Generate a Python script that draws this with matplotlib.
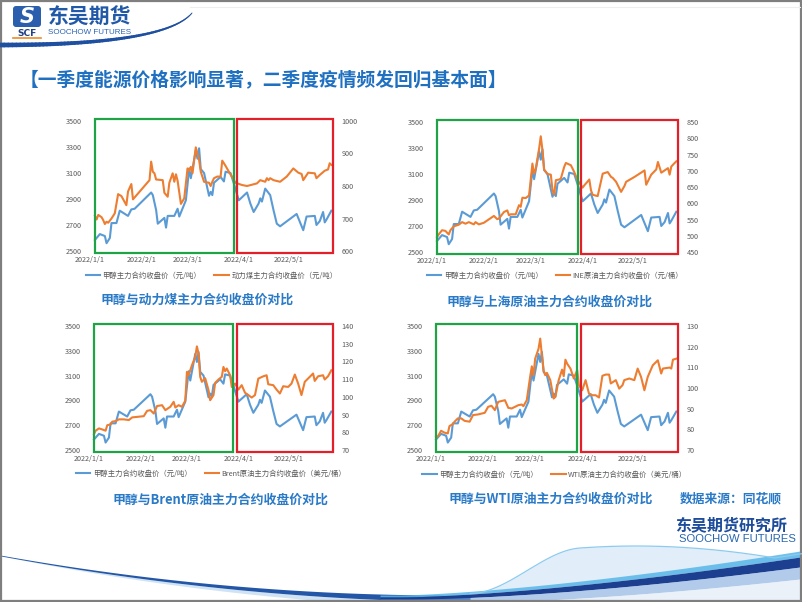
import numpy as np
import pandas as pd
import matplotlib
matplotlib.use('Agg')
import matplotlib.pyplot as plt
import matplotlib.dates as mdates
import matplotlib.transforms as mtransforms
from matplotlib.patches import Rectangle, FancyBboxPatch
from matplotlib.ticker import FuncFormatter

plt.rcParams['font.family'] = ['Noto Sans CJK SC', 'DejaVu Sans']

W, H = 802, 602

##############################################################################
## data (mm-dd, year 2022)
meth_dates = ["01-04","01-07","01-10","01-11","01-13","01-14","01-17","01-19","01-24","01-26",
              "01-28","02-07","02-08","02-10","02-11","02-15","02-16","02-17","02-21","02-23",
              "02-24","02-28","03-02","03-03","03-06","03-07","03-08","03-09","03-11","03-14",
              "03-15","03-16","03-17","03-21","03-23","03-24","03-27","03-29","04-01","04-06",
              "04-08","04-10","04-13","04-14","04-15","04-17","04-20","04-22","04-24","04-26",
              "05-06","05-10","05-12","05-17","05-18","05-20","05-22","05-23","05-24","05-27"]
meth_vals = [2585,2630,2615,2560,2600,2715,2715,2810,2770,2820,
             2825,2950,2930,2815,2710,2755,2680,2770,2770,2825,
             2765,2890,3135,3060,3275,3210,3290,3130,3100,2925,
             2955,2930,3025,3070,3035,3110,3100,3020,2890,2950,
             2865,2800,2865,2905,2880,2980,2930,2815,2710,2690,
             2785,2660,2765,2770,2700,2730,2800,2720,2740,2810]

coal_dates = ["01-04","01-05","01-06","01-08","01-09","01-10","01-11","01-12","01-14","01-16",
              "01-18","01-20","01-23","01-24","01-26","01-27","02-06","02-07","02-08","02-09",
              "02-10","02-14","02-15","02-17","02-18","02-20","02-21","02-22","02-23","02-25",
              "02-27","03-01","03-02","03-03","03-04","03-06","03-08","03-09","03-11","03-14",
              "03-15","03-16","03-17","03-19","03-21","03-22","03-24","03-26","03-30","04-03",
              "04-06","04-12","04-14","04-17","04-18","04-19","04-20","04-22","04-26","04-30",
              "05-04","05-07","05-09","05-10","05-13","05-17","05-18","05-20","05-23","05-25",
              "05-26","05-27"]
coal_vals = [708,697,711,704,695,683,690,687,700,716,
             775,769,741,783,806,759,818,875,844,839,
             820,818,779,767,810,839,813,836,816,745,
             762,854,847,859,839,919,880,844,813,810,
             800,813,824,829,829,878,862,844,810,803,
             800,808,818,813,824,818,824,818,813,829,
             854,841,837,818,841,839,824,834,847,851,
             870,865]

ine_dates = ["01-04","01-05","01-07","01-09","01-11","01-12","01-14","01-17","01-19","01-21",
             "01-23","01-26","01-27","01-29","02-01","02-07","02-09","02-10","02-13","02-15",
             "02-16","02-17","02-20","02-22","02-23","02-24","02-26","02-28","03-02","03-03",
             "03-04","03-06","03-07","03-08","03-09","03-11","03-13","03-14","03-15","03-16",
             "03-18","03-19","03-21","03-22","03-25","03-27","03-29","04-01","04-02","04-05",
             "04-06","04-07","04-10","04-13","04-16","04-18","04-19","04-21","04-24","04-26",
             "04-27","05-02","05-08","05-09","05-12","05-15","05-16","05-18","05-22","05-23",
             "05-24","05-26","05-27"]
ine_vals = [496,504,517,515,504,517,529,534,542,537,
            542,535,542,535,540,561,551,553,573,578,
            563,566,566,594,589,617,616,624,722,691,
            706,768,806,763,704,690,688,641,626,671,
            673,676,712,724,717,696,671,648,655,673,
            640,626,622,691,696,681,678,666,635,653,
            666,681,701,657,688,704,727,694,708,688,
            713,724,729]

brent_dates = ["01-04","01-05","01-07","01-09","01-11","01-12","01-14","01-15","01-17","01-19",
               "01-22","01-25","01-27","01-31","02-03","02-05","02-07","02-09","02-11","02-14",
               "02-16","02-19","02-21","02-22","02-24","02-26","02-28","03-01","03-02","03-04",
               "03-06","03-07","03-08","03-09","03-10","03-12","03-14","03-15","03-17","03-18",
               "03-20","03-22","03-23","03-24","03-25","03-27","03-28","03-30","04-01","04-03",
               "04-05","04-07","04-09","04-11","04-13","04-16","04-18","04-19","04-22","04-24",
               "04-26","04-28","05-01","05-03","05-05","05-07","05-09","05-11","05-14","05-16",
               "05-17","05-19","05-22","05-23","05-25","05-27"]
brent_vals = [79,80.9,82.2,81.6,80.9,84,84.4,86,86.3,87.3,
              87.3,86.9,88.4,88.8,89.1,92.1,92.5,90.6,94.8,95.3,
              92.5,94.4,97.2,94,95.3,94.4,97.8,114.1,112.2,117.8,
              122.5,128.5,124.4,111.3,108.5,110.5,103.8,98.1,101,107.9,
              109.8,111.3,116.9,114.5,116,112.2,105.6,107.5,104.1,106.6,
              102.3,101,99.6,101,110.3,111.6,112.2,107.1,106.6,104.1,
              101.9,106,105.6,107.5,112.6,107.5,101,108.5,111.3,113.2,
              109,111.6,112.2,109.8,111.6,115]

wti_dates = ["01-04","01-05","01-07","01-09","01-11","01-12","01-14","01-15","01-17","01-19",
             "01-21","01-24","01-26","01-29","02-02","02-04","02-06","02-08","02-10","02-14",
             "02-16","02-18","02-20","02-22","02-24","02-25","02-27","03-01","03-02","03-03",
             "03-04","03-06","03-07","03-08","03-09","03-10","03-11","03-13","03-15","03-16",
             "03-18","03-20","03-21","03-22","03-23","03-25","03-27","03-29","03-30","04-01",
             "04-03","04-05","04-07","04-09","04-11","04-13","04-15","04-17","04-18","04-21",
             "04-23","04-25","04-26","04-29","05-02","05-04","05-06","05-08","05-10","05-13",
             "05-16","05-18","05-19","05-23","05-24","05-25","05-27"]
wti_vals = [76.8,76.4,79.3,78.4,78,81.6,82.5,83.7,85.3,85.3,
            84.1,83.7,86.9,87.2,88,90.9,91.4,89.3,93.3,94.1,
            90.4,90.1,90.9,91.7,92,91.2,94.1,105.4,110.5,106.2,
            114.2,119,123.9,115.8,108.6,106.2,107.3,103.8,94.9,95.7,
            103.8,108.9,105.7,113.7,111.8,109.4,104.6,108.6,101.4,98.9,
            103.8,97.3,96.5,96.5,95.4,105.9,106.5,106.5,102.2,103.8,
            99.7,101.4,103.8,104.6,103.8,109.4,105.4,98.9,105.4,111,
            113.4,107,109.4,109.9,109.4,113.7,114.2]

meth_label = "甲醇主力合约收盘价（元/吨）"
labels2 = ["动力煤主力合约收盘价（元/吨）", "INE原油主力合约收盘价（元/桶）",
           "Brent原油主力合约收盘价（美元/桶）", "WTI原油主力合约收盘价（美元/桶）"]
captions = ["甲醇与动力煤主力合约收盘价对比", "甲醇与上海原油主力合约收盘价对比",
            "甲醇与Brent原油主力合约收盘价对比", "甲醇与WTI原油主力合约收盘价对比"]
tick_months = ["2022-01-01", "2022-02-01", "2022-03-01", "2022-04-01", "2022-05-01"]
left_ticks = [2500, 2700, 2900, 3100, 3300, 3500]
right_ticks = [[600, 700, 800, 900, 1000],
               [450, 500, 550, 600, 650, 700, 750, 800, 850],
               [70, 80, 90, 100, 110, 120, 130, 140],
               [70, 80, 90, 100, 110, 120, 130]]

title = "【一季度能源价格影响显著，二季度疫情频发回归基本面】"

BLUE = '#5B9BD5'
ORANGE = '#ED7D31'
GREEN = '#1FA347'
RED = '#E3202A'
TXT = '#595959'
CAP = '#2A7AC8'

def to_dt(lst):
    return pd.to_datetime(["2022-" + s for s in lst])

def px(l, t, r, b):
    return [l / W, 1 - b / H, (r - l) / W, (b - t) / H]

def datefmt(v, p):
    d = mdates.num2date(v)
    return "%d/%d/%d" % (d.year, d.month, d.day)

fig = plt.figure(figsize=(W / 100, H / 100), dpi=100)

##############################################################################
## slide background: border, logo, swooshes
bg = fig.add_axes([0, 0, 1, 1], zorder=0)
bg.set_xlim(0, W)
bg.set_ylim(H, 0)
bg.axis('off')
bg.plot([190, W - 2], [7, 7], color='#EEEEEE', lw=0.8)

# top logo
bg.add_patch(FancyBboxPatch((13, 6), 28, 21, boxstyle="round,pad=0,rounding_size=3",
                            fc='#2B5FAE', ec='none'))
bg.text(27, 17, "S", color='white', fontsize=15, fontweight='bold', style='italic',
        ha='center', va='center', family='DejaVu Sans')
bg.text(27, 33, "SCF", color='#1F3F86', fontsize=6.5, fontweight='bold',
        ha='center', va='center', family='DejaVu Sans')
bg.plot([13, 41], [37.5, 37.5], color='#F08A24', lw=1.2)
bg.text(48, 17.5, "东吴期货", color='#2059A8', fontsize=15, fontweight='bold',
        ha='left', va='center')
bg.text(48, 33, "SOOCHOW FUTURES", color='#2C64B4', fontsize=5.8,
        ha='left', va='center', family='Liberation Sans')
t = np.linspace(0, 1, 80)
ax_ = 2 * (1 - t) * t * 165 + t ** 2 * 192
ay_ = (1 - t) ** 2 * 45 + 2 * (1 - t) * t * 45 + t ** 2 * 13
for i in range(len(t) - 1):
    bg.plot(ax_[i:i + 2], ay_[i:i + 2], color='#1E4FA0', lw=2.8 * (1 - t[i]) + 0.6,
            solid_capstyle='round')

# bottom swooshes
x = np.linspace(0, 470, 200)
f = np.clip(x / 450, 0, 1)
yl = 555 + 40 * (1 - (1 - f) ** 2)
thick = 0.8 + 6 * (x / 470) ** 1.2
bg.fill_between(x, yl + thick, yl + thick + 6 * f, color='#CFE3F5', lw=0)
bg.fill_between(x, yl, yl + thick, color='#2356A6', lw=0)
xr = np.linspace(380, W, 300)
s = np.clip((xr - 400) / 400, 0, None)
yr = 597 - 40 * s ** 1.5
hump = np.sin(np.clip((xr - 470) / (W - 470), 0, 1) * np.pi) ** 0.8
target = 564 - 18 * hump
w = np.clip((xr - 470) / 110, 0, 1)
w = w * w * (3 - 2 * w)
arc = np.minimum(yr - 3 * s, yr - (yr - target) * w)
bg.fill_between(xr, arc, yr, color='#E1EEF9', lw=0)
bg.plot(xr[xr > 470], arc[xr > 470], color='#8CCBEF', lw=0.9)
bg.fill_between(xr, yr - 2 - 4 * s, yr, color='#56B6E8', lw=0, alpha=0.85)
bg.fill_between(xr, yr, yr + 2 + 8 * s, color='#1D3F8F', lw=0)
bg.fill_between(xr, yr + 2 + 8 * s, yr + 6 + 16 * s, color='#7FA9DC', lw=0, alpha=0.6)
bg.fill_between(xr, yr + 6 + 16 * s, H, color='#DCE8F5', lw=0, alpha=0.6)
bg.add_patch(Rectangle((0.8, 0.8), W - 1.6, H - 1.6, fill=False, ec='#7F7F7F', lw=1.6))

# headline texts
fig.text(20 / W, 1 - 80 / H, title, color='#1F70C1', fontsize=13.5, fontweight='bold',
         ha='left', va='center')
fig.text(731 / W, 1 - 499 / H, "数据来源：同花顺", color='#2A7AC8', fontsize=9.2,
         fontweight='bold', ha='center', va='center')
fig.text(731 / W, 1 - 525 / H, "东吴期货研究所", color='#1D4C9A', fontsize=11.5,
         fontweight='bold', ha='center', va='center')
fig.text(737 / W, 1 - 539 / H, "SOOCHOW FUTURES", color='#2766B0', fontsize=8.1,
         ha='center', va='center', family='Liberation Sans')

##############################################################################
## the four charts
rects = [(90, 121, 333, 251), (432, 122, 678, 252), (89, 326, 333, 450), (431, 326, 678, 450)]
series2 = [(coal_dates, coal_vals), (ine_dates, ine_vals),
           (brent_dates, brent_vals), (wti_dates, wti_vals)]
legend_y = [276, 276, 474, 475]
cap_pos = [(197, 300), (550, 302), (220, 500), (551, 499)]
green_span = ("2022-01-04", "2022-03-29")
red_span = ("2022-03-31", "2022-05-28")

mdt = to_dt(meth_dates)
for k in range(4):
    l, tp, r, b = rects[k]
    ax = fig.add_axes(px(l, tp, r, b), zorder=2)
    ax.set_facecolor('none')
    ax.plot(mdt, meth_vals, color=BLUE, lw=1.5, solid_joinstyle='round')
    ax.set_ylim(2500, 3500)
    ax.set_yticks(left_ticks)
    ax.set_xlim(pd.Timestamp("2022-01-01"), pd.Timestamp("2022-05-28"))
    ax.set_xticks(pd.to_datetime(tick_months))
    ax.xaxis.set_major_formatter(FuncFormatter(datefmt))
    ax.tick_params(axis='y', length=0, pad=6, labelsize=5.2, labelcolor=TXT)
    ax.tick_params(axis='x', length=0, pad=3.5, labelsize=5.2, labelcolor=TXT)
    for sp in ax.spines.values():
        sp.set_visible(False)

    d2, v2 = series2[k]
    ax2 = ax.twinx()
    ax2.plot(to_dt(d2), v2, color=ORANGE, lw=1.5, solid_joinstyle='round')
    ax2.set_ylim(right_ticks[k][0], right_ticks[k][-1])
    ax2.set_yticks(right_ticks[k])
    ax2.tick_params(axis='y', length=0, pad=6, labelsize=5.2, labelcolor=TXT)
    for sp in ax2.spines.values():
        sp.set_visible(False)
    ax2.spines['right'].set_visible(True)
    ax2.spines['right'].set_color('#D9D9D9')
    ax2.spines['right'].set_linewidth(0.8)

    # highlight boxes
    trans = mtransforms.blended_transform_factory(ax2.transData, ax2.transAxes)
    for (a, z), col in [(green_span, GREEN), (red_span, RED)]:
        x0 = mdates.date2num(pd.Timestamp(a))
        x1 = mdates.date2num(pd.Timestamp(z))
        ax2.add_patch(Rectangle((x0, -0.015), x1 - x0, 1.03, transform=trans, fill=False,
                                ec=col, lw=1.6, clip_on=False, zorder=5))

    h1, = ax.plot([], [], color=BLUE, lw=1.5)
    h2, = ax.plot([], [], color=ORANGE, lw=1.5)
    fig.legend([h1, h2], [meth_label, labels2[k]], loc='center', ncol=2, frameon=False,
               bbox_to_anchor=((l + r) / 2 / W, 1 - legend_y[k] / H),
               prop={'size': 5.3}, labelcolor=TXT, handlelength=2.0,
               handletextpad=0.3, columnspacing=1.8)

    cx, cy = cap_pos[k]
    fig.text(cx / W, 1 - cy / H, captions[k], color=CAP, fontsize=9.3, fontweight='bold',
             ha='center', va='center')

fig.savefig('out.png', dpi=100)
